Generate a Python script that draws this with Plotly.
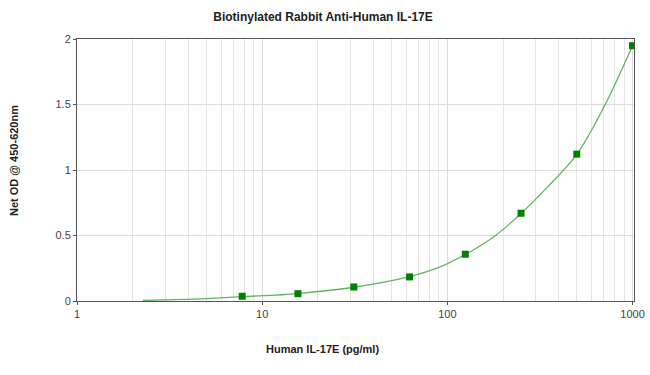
import plotly.graph_objects as go

# Standard points
conc = [7.8, 15.6, 31.25, 62.5, 125, 250, 500, 1000]
od = [0.036, 0.056, 0.107, 0.184, 0.357, 0.670, 1.121, 1.949]

# Fitted curve
curve_x = [2.27, 3, 4, 5, 7.8, 15.6, 31.25, 62.5, 90, 125, 180, 250, 350, 500, 700, 1000]
curve_y = [0.004, 0.008, 0.013, 0.018, 0.033, 0.057, 0.105, 0.186, 0.256, 0.355, 0.495, 0.668, 0.875, 1.12, 1.48, 1.949]

x_ticks = [1, 10, 100, 1000]
x_tick_text = ["1", "10", "100", "1000"]
x_minor = [2, 3, 4, 5, 6, 7, 8, 9, 20, 30, 40, 50, 60, 70, 80, 90,
           200, 300, 400, 500, 600, 700, 800, 900]
y_ticks = [0, 0.5, 1, 1.5, 2]
y_tick_text = ["0", "0.5", "1", "1.5", "2"]

W, H = 650, 375
L, R, T, B = 77, 16, 39, 74

fig = go.Figure()
fig.add_trace(go.Scatter(x=curve_x, y=curve_y, mode="lines",
                         line=dict(color="#63b363", width=1.3, shape="spline", smoothing=1.0),
                         hoverinfo="skip", showlegend=False))
fig.add_trace(go.Scatter(x=conc, y=od, mode="markers",
                         marker=dict(symbol="square", size=7, color="#008000"),
                         showlegend=False))

fig.update_layout(
    width=W, height=H,
    margin=dict(l=L, r=R, t=T, b=B, autoexpand=False),
    paper_bgcolor="white", plot_bgcolor="white",
    font=dict(family="Liberation Sans, Arial", size=11, color="#444"),
    title=dict(text="<b>Biotinylated Rabbit Anti-Human IL-17E</b>", x=323/W, xanchor="center",
               y=1 - 17/H, yanchor="middle", font=dict(size=12, color="#222")),
    annotations=[
        dict(text="<b>Human IL-17E (pg/ml)</b>", xref="paper", yref="paper",
             x=(322 - L)/(W - L - R), y=-(349 - (H - B))/(H - T - B),
             xanchor="center", yanchor="middle", showarrow=False,
             font=dict(size=11, color="#222")),
        dict(text="<b>Net OD @ 450-620nm</b>", xref="paper", yref="paper",
             x=-(L - 14)/(W - L - R), y=((H - B) - 161)/(H - T - B),
             xanchor="center", yanchor="middle", textangle=-90, showarrow=False,
             font=dict(size=11, color="#222")),
    ],
)
fig.update_xaxes(type="log", range=[0, 3.008], tickvals=x_ticks, ticktext=x_tick_text,
                 automargin=False,
                 showgrid=True, gridcolor="#dcdcdc", gridwidth=1,
                 minor=dict(tickvals=x_minor, showgrid=True, gridcolor="#e4e4e4", ticks=""),
                 showline=True, linecolor="#555", linewidth=1, mirror=True,
                 ticks="outside", ticklen=3, tickcolor="#555", zeroline=False,
                 tickfont=dict(size=11, color="#444"))
fig.update_yaxes(range=[0, 2], tickvals=y_ticks, ticktext=y_tick_text,
                 automargin=False,
                 showgrid=True, gridcolor="#dcdcdc", gridwidth=1,
                 showline=True, linecolor="#555", linewidth=1, mirror=True,
                 ticks="outside", ticklen=3, tickcolor="#555", zeroline=False,
                 tickfont=dict(size=11, color="#444"))

fig.write_html("out.html", config={"displayModeBar": False},
               post_script="document.body.style.margin='0';document.body.style.overflow='hidden';")
